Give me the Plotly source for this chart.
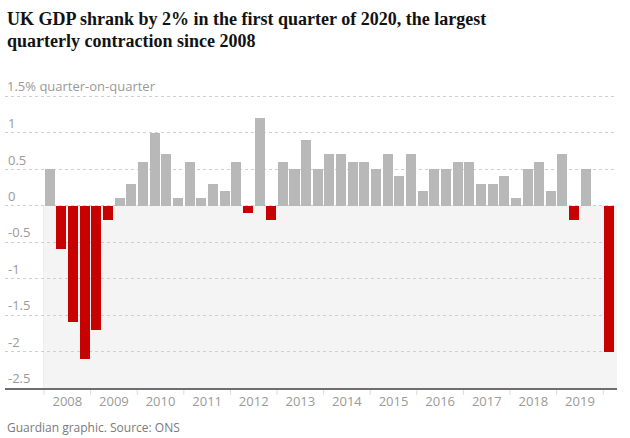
import plotly.graph_objects as go

# ---- data ----
quarters = [f"{y} Q{q}" for y in range(2008, 2021) for q in range(1, 5)][:49]
growth = [
    0.5, -0.6, -1.6, -2.1,      # 2008
    -1.7, -0.2, 0.1, 0.3,       # 2009
    0.6, 1.0, 0.7, 0.1,         # 2010
    0.6, 0.1, 0.3, 0.2,         # 2011
    0.6, -0.1, 1.2, -0.2,       # 2012
    0.6, 0.5, 0.9, 0.5,         # 2013
    0.7, 0.7, 0.6, 0.6,         # 2014
    0.5, 0.7, 0.4, 0.7,         # 2015
    0.2, 0.5, 0.5, 0.6,         # 2016
    0.6, 0.3, 0.3, 0.4,         # 2017
    0.1, 0.5, 0.6, 0.2,         # 2018
    0.7, -0.2, 0.5, 0.0,        # 2019
    -2.0,                       # 2020
]
year_labels = [str(y) for y in range(2008, 2020)]
y_ticks = [-2.5, -2, -1.5, -1, -0.5, 0, 0.5, 1, 1.5]
y_ticktext = ["-2.5", "-2", "-1.5", "-1", "-0.5", "0", "0.5", "1", ""]
y_top_label = "1.5% quarter-on-quarter"

# ---- styling ----
GREY = "#b8b8b8"
RED = "#c70000"
W, H = 630, 438
L, R, T, B = 5, 13, 80, 50
plot_h = H - T - B
y_min, y_max = -2.5, 1.72
TICK_FONT = dict(family="Open Sans", size=13, color="#9a9a9a")

def q_to_x(label):
    y, q = label.split(" Q")
    return int(y) + (int(q) - 1) / 4 + 0.125

xs = [q_to_x(q) for q in quarters]
colors = [RED if v < 0 else GREY for v in growth]

x_min, x_max = 2007.163, 2020.295

fig = go.Figure()
fig.add_trace(go.Bar(
    x=xs, y=growth, width=0.215, marker=dict(color=colors, line=dict(width=0)),
    hovertext=quarters, hoverinfo="text+y",
))

shapes = [dict(type="rect", xref="x", yref="y", x0=2008, x1=x_max, y0=-2.5, y1=0,
               fillcolor="#f4f4f4", line=dict(width=0), layer="below")]
zero_paper = (0 - y_min) / (y_max - y_min)
for yr in range(2008, 2021):
    shapes.append(dict(type="line", xref="x", yref="paper", x0=yr, x1=yr,
                       y0=-7 / plot_h, y1=zero_paper,
                       line=dict(color="#dcdcdc", width=1), layer="below"))

def py(px):
    return (H - B - px) / plot_h

annotations = [
    dict(text="<b>UK GDP shrank by 2% in the first quarter of 2020, the largest</b>",
         xref="paper", yref="paper", x=0, y=py(19), xanchor="left", yanchor="middle",
         showarrow=False, font=dict(family="Liberation Serif", size=18, color="#121212")),
    dict(text="<b>quarterly contraction since 2008</b>",
         xref="paper", yref="paper", x=0, y=py(41), xanchor="left", yanchor="middle",
         showarrow=False, font=dict(family="Liberation Serif", size=18, color="#121212")),
    dict(text=y_top_label, xref="paper", yref="y", x=0, y=y_ticks[-1],
         xanchor="left", yanchor="bottom", showarrow=False, font=TICK_FONT,
         borderpad=0, xshift=1, yshift=0),
    dict(text="Guardian graphic. Source: ONS",
         xref="paper", yref="paper", x=0, y=py(427), xanchor="left", yanchor="middle",
         showarrow=False, font=dict(family="Open Sans", size=12, color="#7a7a7a")),
]

fig.update_layout(
    width=W, height=H,
    margin=dict(l=L, r=R, t=T, b=B),
    paper_bgcolor="white", plot_bgcolor="white",
    showlegend=False, bargap=0,
    shapes=shapes, annotations=annotations,
    xaxis=dict(
        range=[x_min, x_max], tickvals=[y + 0.5 for y in range(2008, 2020)],
        ticktext=year_labels, showgrid=False, zeroline=False,
        showline=True, linecolor="#6e6e6e", linewidth=2, ticks="",
        tickfont=TICK_FONT, fixedrange=True,
    ),
    yaxis=dict(
        range=[y_min, y_max], tickvals=y_ticks, ticktext=y_ticktext,
        ticklabelposition="inside top", showgrid=True, gridcolor="#cfcfcf",
        griddash="dot", gridwidth=1, zeroline=False, showline=False, ticks="",
        tickfont=TICK_FONT, fixedrange=True,
    ),
)

fig.write_html("out.html")
